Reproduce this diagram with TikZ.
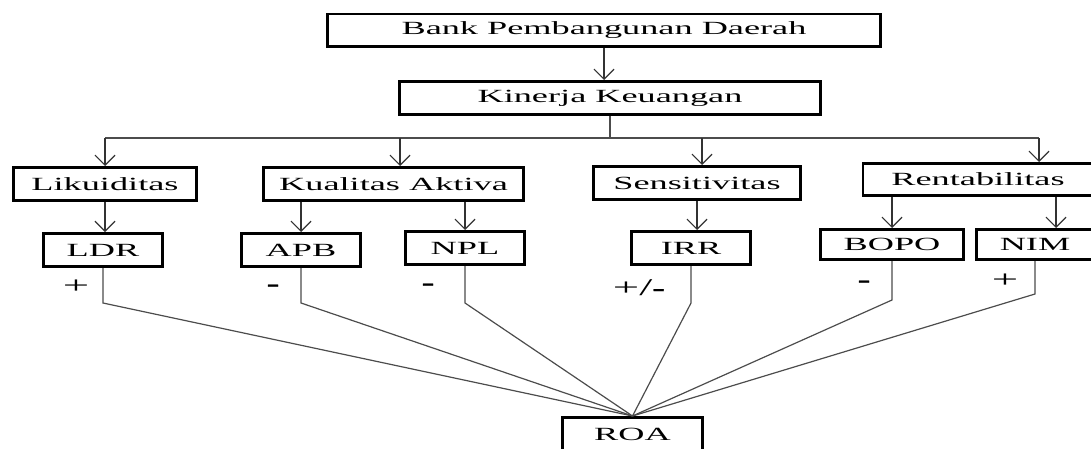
\documentclass[tikz,border=0pt]{standalone}
\usepackage{fontspec}
\setmainfont{Liberation Serif}
\newfontfamily\widefont[FakeStretch=1.95]{Liberation Serif}
\newfontfamily\minusfont[FakeStretch=1.6,FakeBold=0.6]{Liberation Serif}
\usetikzlibrary{arrows.meta}
\tikzstyle{box} = [draw, line width=1.4pt, inner sep=0pt, minimum height=16.6pt, font=\widefont\fontsize{9.3}{11}\selectfont]
\tikzstyle{arrow} = [black!80, line width=0.6pt, -{Straight Barb[length=5pt,width=10pt]}]
\tikzstyle{link} = [black!70, line width=0.6pt]
\tikzstyle{sign} = [inner sep=0pt, font=\widefont\fontsize{12}{14}\selectfont]
\tikzstyle{minus} = [inner sep=0pt, font=\minusfont\fontsize{12}{14}\selectfont]

\begin{document}
\begin{tikzpicture}[x=0.5pt,y=-0.5pt]
\clip (0,0) rectangle (1091,449);
% boxes
\node[box, minimum width=276.6pt, minimum height=16.4pt] (bank) at (604,30.5) {Bank Pembangunan Daerah};
\node[box, minimum width=210.6pt] (kinerja) at (610,98) {Kinerja Keuangan};
\node[box, minimum width=91.6pt] (likuid) at (105,184) {Likuiditas};
\node[box, minimum width=130.1pt] (kualitas) at (393.5,184) {Kualitas Aktiva};
\node[box, minimum width=103.6pt] (sensitiv) at (697,183) {Sensitivitas};
\node[box, minimum width=115.1pt, minimum height=16.1pt] (rentab) at (978,179.5) {Rentabilitas};
\node[box, minimum width=59.6pt] (ldr) at (103,250) {LDR};
\node[box, minimum width=59.6pt] (apb) at (301,250) {APB};
\node[box, minimum width=59.6pt] (npl) at (465,248) {NPL};
\node[box, minimum width=59.6pt] (irr) at (691,248) {IRR};
\node[box, minimum width=71.6pt, minimum height=15.1pt] (bopo) at (892,244.5) {BOPO};
\node[box, minimum width=58.6pt, minimum height=15.1pt] (nim) at (1035,244.5) {NIM};
\node[box, minimum width=70.1pt] (roa) at (632.5,434) {ROA};
% signs
\node[sign] (sldr) at (76,287) {+};
\node[minus] (sapb) at (273,288) {-};
\node[minus] (snpl) at (428,287) {-};
\node[sign] (sirr) at (639,288) {+/{\minusfont -}};
\node[minus] (sbopo) at (864,284) {-};
\node[sign] (snim) at (1005,281) {+};
% tree
\coordinate (b1) at (105,138);
\coordinate (b2) at (400,138);
\coordinate (b3) at (702,138);
\coordinate (b4) at (1039,138);
\coordinate (n1) at ([xshift=10.5pt]nim.north);
\draw[arrow] (bank.south) -- (bank.south |- kinerja.north);
\draw[link] (kinerja.south) -- (kinerja.south |- b1);
\draw[link] (b1) -- (b4);
\draw[arrow] (b1) -- (b1 |- likuid.north);
\draw[arrow] (b2) -- (b2 |- kualitas.north);
\draw[arrow] (b3) -- (b3 |- sensitiv.north);
\draw[arrow] (b4) -- (b4 |- rentab.north);
\draw[arrow] (likuid.south) -- (likuid.south |- ldr.north);
\draw[arrow] (apb.north |- kualitas.south) -- (apb.north);
\draw[arrow] (npl.north |- kualitas.south) -- (npl.north);
\draw[arrow] (sensitiv.south) -- (sensitiv.south |- irr.north);
\draw[arrow] (bopo.north |- rentab.south) -- (bopo.north);
\draw[arrow] (n1 |- rentab.south) -- (n1);
% to ROA
\coordinate (knee) at (0,303);
\draw[link] (ldr.south) -- (ldr.south |- knee) -- (roa.north);
\draw[link] (apb.south) -- (apb.south |- knee) -- (roa.north);
\draw[link] (npl.south) -- (npl.south |- knee) -- (roa.north);
\draw[link] (irr.south) -- (irr.south |- knee) -- (roa.north);
\draw[link] (bopo.south) -- (bopo.south |- 0,300) -- (roa.north);
\draw[link] (nim.south) -- (nim.south |- 0,294) -- (roa.north);
\end{tikzpicture}
\end{document}
